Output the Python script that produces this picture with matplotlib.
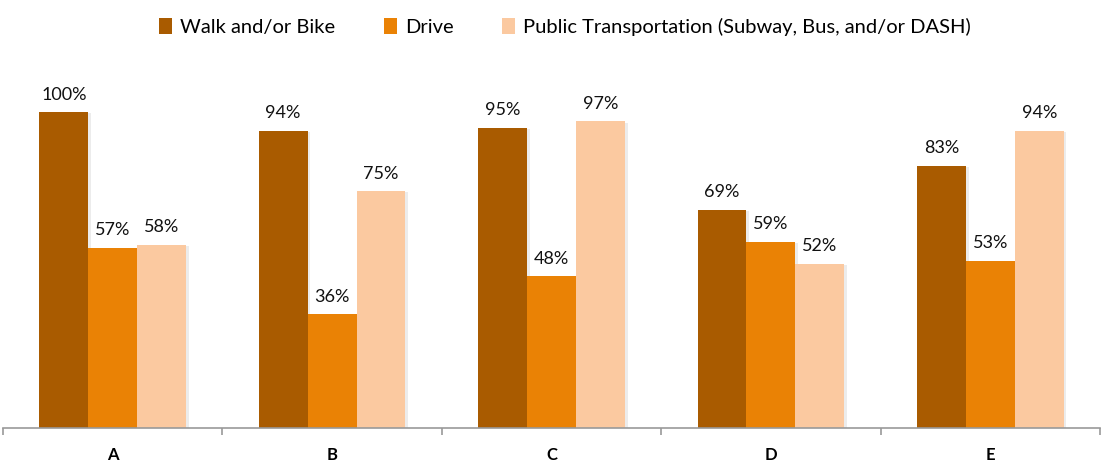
import numpy as np
import matplotlib.pyplot as plt
import matplotlib.patheffects as pe

categories = ['A', 'B', 'C', 'D', 'E']
series_names = ['Walk and/or Bike', 'Drive', 'Public Transportation (Subway, Bus, and/or DASH)']
walk = [100, 94, 95, 69, 83]
drive = [57, 36, 48, 59, 53]
public = [58, 75, 97, 52, 94]
colors = ['#A95B00', '#EA8205', '#FBC9A0']

plt.rcParams['font.family'] = ['Lato', 'DejaVu Sans']

fig = plt.figure(figsize=(11.08, 4.69), dpi=100)
ax = fig.add_axes([3 / 1108, 1 - 428 / 469, 1097 / 1108, 316 / 469])

x = np.arange(len(categories))
w = 0.223
shadow = [pe.SimplePatchShadow(offset=(2, -1), alpha=0.15, shadow_rgbFace='gray'), pe.Normal()]
for i, (vals, c, name) in enumerate(zip([walk, drive, public], colors, series_names)):
    bars = ax.bar(x + (i - 1) * w, vals, width=w, color=c, label=name, zorder=2)
    for b in bars:
        b.set_path_effects(shadow)
    for xi, v in zip(x + (i - 1) * w, vals):
        ax.text(xi, v + 3, f'{v}%', ha='center', va='bottom', fontsize=13, color='#111111')

ax.set_xlim(-0.5, 4.5)
ax.set_ylim(0, 100)
for s in ['top', 'right', 'left']:
    ax.spines[s].set_visible(False)
ax.spines['bottom'].set_color('#999999')
ax.spines['bottom'].set_linewidth(1.2)
ax.set_yticks([])
ax.set_xticks(np.arange(-0.5, 5.0, 1.0), minor=False)
ax.set_xticklabels([])
ax.tick_params(axis='x', which='major', length=5, color='#999999', width=1.2)
ax.set_xticks(x, minor=True)
ax.set_xticklabels(categories, minor=True, fontsize=12, fontweight='bold')
ax.tick_params(axis='x', which='minor', length=0, pad=14)

leg = fig.legend(loc='upper center', bbox_to_anchor=(0.51, 1.0), ncol=3, frameon=False,
                 fontsize=14.5, handlelength=0.65, handleheight=0.85, handletextpad=0.4,
                 columnspacing=2.4)
for h in leg.legend_handles:
    h.set_path_effects([])

fig.savefig('out.png', dpi=100)
